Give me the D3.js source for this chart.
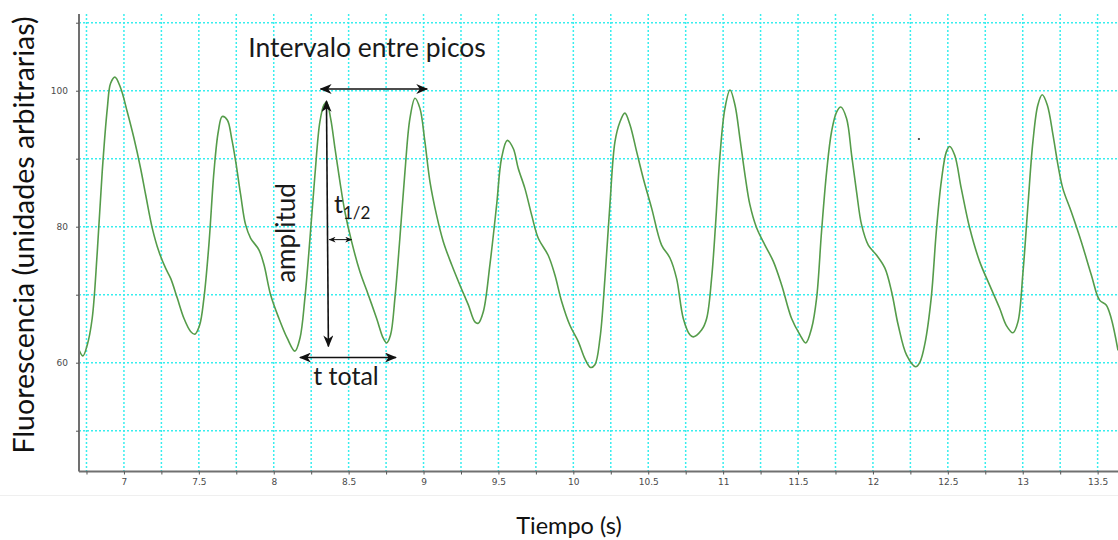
<!DOCTYPE html>
<html>
<head>
<meta charset="utf-8">
<script src="https://cdn.jsdelivr.net/npm/d3@7"></script>
<style>
  body { margin: 0; background: #fff; }
  svg { display: block; }
</style>
</head>
<body>
<svg id="chart" width="1118" height="540"></svg>
<script>
// Calcium fluorescence trace: time (s) and fluorescence (arbitrary units)
const time = [6.700, 6.726, 6.755, 6.788, 6.822, 6.855, 6.889, 6.911, 6.940, 6.978,
  7.022, 7.067, 7.111, 7.145, 7.189, 7.234, 7.278, 7.312, 7.356, 7.401,
  7.445, 7.474, 7.505, 7.534, 7.567, 7.601, 7.630, 7.656, 7.690, 7.719,
  7.746, 7.779, 7.812, 7.846, 7.901, 7.935, 7.979, 8.035, 8.090, 8.141,
  8.175, 8.208, 8.242, 8.275, 8.308, 8.335, 8.353, 8.380, 8.409, 8.442,
  8.475, 8.520, 8.575, 8.631, 8.687, 8.731, 8.754, 8.780, 8.809, 8.842,
  8.876, 8.909, 8.943, 8.976, 9.009, 9.043, 9.087, 9.132, 9.188, 9.243,
  9.299, 9.343, 9.365, 9.399, 9.443, 9.488, 9.521, 9.559, 9.599, 9.632,
  9.677, 9.722, 9.766, 9.832, 9.877, 9.922, 9.977, 10.033, 10.077, 10.115,
  10.144, 10.178, 10.211, 10.244, 10.278, 10.311, 10.344, 10.378, 10.423, 10.467,
  10.523, 10.589, 10.645, 10.689, 10.734, 10.778, 10.801, 10.856, 10.890, 10.923,
  10.950, 10.979, 11.012, 11.046, 11.079, 11.112, 11.146, 11.179, 11.224, 11.279,
  11.335, 11.391, 11.457, 11.513, 11.551, 11.591, 11.624, 11.657, 11.691, 11.724,
  11.758, 11.786, 11.824, 11.858, 11.891, 11.924, 11.969, 12.025, 12.080, 12.125,
  12.169, 12.225, 12.285, 12.314, 12.347, 12.389, 12.423, 12.456, 12.490, 12.512,
  12.546, 12.590, 12.646, 12.712, 12.779, 12.846, 12.890, 12.935, 12.968, 13.002,
  13.035, 13.068, 13.101, 13.130, 13.164, 13.202, 13.235, 13.268, 13.324, 13.391,
  13.458, 13.513, 13.557, 13.591, 13.636];

const fluor = [61.9, 61.0, 62.6, 66.5, 76.3, 88.1, 97.4, 101.1, 102.0, 100.4,
  96.9, 93.0, 88.6, 84.7, 79.8, 76.3, 73.9, 72.4, 69.5, 66.5,
  64.6, 64.2, 65.5, 69.5, 77.3, 88.1, 94.0, 96.2, 95.7, 93.0,
  89.6, 84.7, 80.3, 78.3, 76.6, 74.4, 70.0, 66.5, 63.6, 61.7,
  63.6, 69.5, 78.3, 87.6, 95.4, 97.9, 98.3, 95.9, 91.5, 86.6,
  82.2, 77.8, 73.4, 70.0, 66.5, 63.6, 62.9, 64.1, 69.5, 78.3,
  88.1, 95.9, 98.9, 97.4, 92.5, 86.6, 81.7, 77.8, 74.4, 71.4,
  68.5, 66.0, 65.8, 67.5, 74.4, 83.2, 90.1, 92.7, 91.5, 88.6,
  85.6, 81.7, 78.3, 75.8, 72.9, 69.0, 65.5, 63.1, 60.6, 59.3,
  59.7, 63.6, 72.4, 83.2, 92.5, 95.4, 96.7, 95.0, 91.0, 87.1,
  82.7, 77.3, 75.4, 72.4, 66.5, 64.1, 63.8, 64.8, 66.5, 72.4,
  80.5, 90.5, 97.4, 100.1, 97.9, 93.0, 87.6, 83.2, 79.8, 77.3,
  74.9, 71.4, 66.5, 64.1, 62.9, 65.1, 69.5, 79.3, 88.1, 94.0,
  96.9, 97.6, 95.9, 90.5, 85.1, 80.3, 77.3, 75.8, 73.9, 70.4,
  65.5, 61.1, 59.4, 60.1, 62.8, 69.5, 79.3, 86.6, 91.0, 91.8,
  90.5, 85.6, 79.8, 74.9, 71.4, 68.0, 65.5, 64.4, 66.0, 73.4,
  83.2, 92.5, 97.9, 99.4, 97.9, 93.5, 89.1, 85.6, 82.2, 77.8,
  72.9, 69.2, 68.5, 66.5, 61.8];

// Axis ticks
const xTickValues = d3.range(6.75, 13.51, 0.25);
const xTickLabels = ["7", "7.5", "8", "8.5", "9", "9.5", "10", "10.5", "11", "11.5", "12", "12.5", "13", "13.5"];
const yTickValues = [50, 60, 70, 80, 90, 100, 110];
const yTickLabels = ["60", "80", "100"];

// Annotation arrows in data units: [t1, v1, t2, v2]
const intervalArrow = [8.313, 100.25, 9.025, 100.25];
const amplitudeArrow = [8.352, 98.5, 8.365, 62.4];
const halfTimeArrow = [8.370, 78.1, 8.520, 78.1];
const totalArrow = [8.175, 60.76, 8.816, 60.76];
const strayPoint = [12.307, 92.9];

(function draw() {
  const svg = d3.select("#chart");
  const W = 1118, H = 540;
  const pL = 79, pR = 1118, pT = 14, pB = 471.5;

  svg.append("rect").attr("width", W).attr("height", H).attr("fill", "#fff");

  const x = d3.scaleLinear().domain([6.7, 13.636]).range([pL, pR]);
  const y = d3.scaleLinear().domain([44.0, 111.28]).range([pB, pT]);

  // faint separator under the plot
  svg.append("line")
    .attr("x1", 0).attr("x2", W).attr("y1", 495.5).attr("y2", 495.5)
    .attr("stroke", "#efefef").attr("stroke-width", 1);

  // dotted grid
  const grid = svg.append("g").attr("stroke", "#38eeee").attr("stroke-width", 1.5)
    .attr("stroke-dasharray", "2,2");
  grid.selectAll("line.v").data(xTickValues).join("line")
    .attr("class", "v")
    .attr("x1", d => x(d)).attr("x2", d => x(d))
    .attr("y1", pT).attr("y2", pB);
  grid.selectAll("line.h").data(yTickValues).join("line")
    .attr("class", "h")
    .attr("x1", pL).attr("x2", pR)
    .attr("y1", d => y(d)).attr("y2", d => y(d));

  // trace
  const pts = time.map((t, i) => [t, fluor[i]]);
  svg.append("clipPath").attr("id", "plotClip").append("rect")
    .attr("x", pL).attr("y", pT).attr("width", pR - pL).attr("height", pB - pT);
  svg.append("path")
    .datum(pts)
    .attr("clip-path", "url(#plotClip)")
    .attr("fill", "none")
    .attr("stroke", "#559c4a")
    .attr("stroke-width", 1.6)
    .attr("stroke-linejoin", "round")
    .attr("d", d3.line().x(d => x(d[0])).y(d => y(d[1])).curve(d3.curveCatmullRom.alpha(0.5)));

  // axes
  const xLabel = d => {
    const i = Math.round((d - 7) / 0.5);
    return Math.abs(d - (7 + i * 0.5)) < 1e-6 ? xTickLabels[i] : "";
  };
  const xAxis = svg.append("g")
    .attr("transform", `translate(0,${pB})`)
    .call(d3.axisBottom(x).tickValues(xTickValues).tickSize(3).tickPadding(4).tickFormat(xLabel));
  const yAxis = svg.append("g")
    .attr("transform", `translate(${pL},0)`)
    .call(d3.axisLeft(y).tickValues(yTickValues).tickSize(3).tickPadding(8)
      .tickFormat(d => yTickLabels.includes(String(d)) ? String(d) : ""));

  xAxis.select(".domain").attr("d", `M${pL},0H${pR}`);
  yAxis.select(".domain").attr("d", `M0,${pT}V${pB}`);
  [xAxis, yAxis].forEach(a => {
    a.select(".domain").attr("stroke", "#707070").attr("stroke-width", 2);
    a.selectAll(".tick line").attr("stroke", "#555");
    a.selectAll(".tick text").attr("fill", "#4a4a4a")
      .attr("font-family", "DejaVu Sans").attr("font-size", 9);
  });

  // axis titles
  svg.append("text")
    .attr("x", 569).attr("y", 534)
    .attr("text-anchor", "middle")
    .attr("font-family", "Lato").attr("font-size", 23.5).attr("fill", "#111")
    .text("Tiempo (s)");
  svg.append("text")
    .attr("transform", "translate(34,235) rotate(-90)")
    .attr("text-anchor", "middle")
    .attr("font-family", "Lato").attr("font-size", 28.5).attr("fill", "#111")
    .text("Fluorescencia (unidades arbitrarias)");

  // arrow markers
  const defs = svg.append("defs");
  defs.append("marker").attr("id", "head")
    .attr("viewBox", "0 0 12 10").attr("refX", 11).attr("refY", 5)
    .attr("markerWidth", 12).attr("markerHeight", 10)
    .attr("markerUnits", "userSpaceOnUse").attr("orient", "auto-start-reverse")
    .append("path").attr("d", "M0,0 L12,5 L0,10 L3.5,5 Z").attr("fill", "#111");
  defs.append("marker").attr("id", "headSmall")
    .attr("viewBox", "0 0 12 10").attr("refX", 11).attr("refY", 5)
    .attr("markerWidth", 7).attr("markerHeight", 6)
    .attr("markerUnits", "userSpaceOnUse").attr("orient", "auto-start-reverse")
    .append("path").attr("d", "M0,0 L12,5 L0,10 L3.5,5 Z").attr("fill", "#111");

  const ann = svg.append("g").attr("stroke", "#111").attr("fill", "none");
  function arrow(a, w, mk) {
    ann.append("line")
      .attr("x1", x(a[0])).attr("y1", y(a[1]))
      .attr("x2", x(a[2])).attr("y2", y(a[3]))
      .attr("stroke-width", w)
      .attr("marker-start", `url(#${mk})`).attr("marker-end", `url(#${mk})`);
  }
  arrow(intervalArrow, 1.6, "head");
  arrow(totalArrow, 1.6, "head");
  arrow(halfTimeArrow, 1, "headSmall");
  arrow(amplitudeArrow, 1.6, "head");

  // annotation labels
  const lab = svg.append("g").attr("font-family", "Lato").attr("fill", "#1a1a1a");
  lab.append("text").attr("x", 367).attr("y", 57).attr("text-anchor", "middle")
    .attr("font-size", 26.5).text("Intervalo entre picos");
  lab.append("text").attr("transform", "translate(295,233) rotate(-90)")
    .attr("text-anchor", "middle").attr("font-size", 26).text("amplitud");
  lab.append("text").attr("x", 346).attr("y", 385).attr("text-anchor", "middle")
    .attr("font-size", 25).text("t total");
  const th = lab.append("text").attr("x", 334).attr("y", 213).attr("font-size", 25);
  th.append("tspan").text("t");
  th.append("tspan").attr("font-size", 17).attr("dy", 6).text("1/2");

  // isolated sample point
  svg.append("rect")
    .attr("x", x(strayPoint[0]) - 1).attr("y", y(strayPoint[1]) - 1)
    .attr("width", 2).attr("height", 2).attr("fill", "#555");
})();
</script>
</body>
</html>
